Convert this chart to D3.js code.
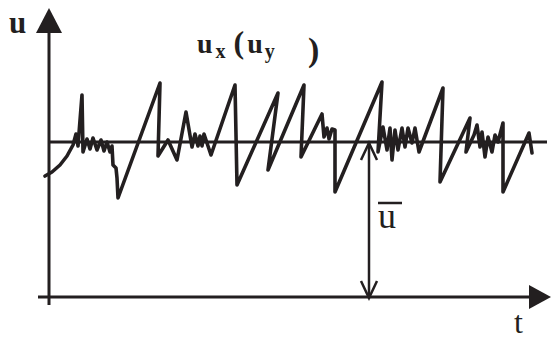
<!DOCTYPE html>
<html>
<head>
<meta charset="utf-8">
<script src="https://cdn.jsdelivr.net/npm/d3@7"></script>
<style>
  html, body { margin: 0; padding: 0; background: #fff; }
  svg { display: block; }
  text { font-family: "Liberation Serif", "DejaVu Serif", serif; fill: #231f20; }
</style>
</head>
<body>
<div id="chart"></div>
<script>
// signal u(t)
var sigT = [-0.8, 0.6, 2.2, 3.6, 4.8, 5.4, 5.8, 6.6, 6.8, 7.6, 8.2, 8.8, 9.6, 10.4, 11.0, 11.6, 12.2, 12.6, 12.8, 13.4,
            13.6, 13.8, 22.2, 21.8, 23.8, 25.6, 27.4, 28.6, 29.2, 29.8, 30.2, 30.6, 31.0, 31.6, 32.4, 37.2, 37.6, 45.8, 43.8, 51.0,
            50.4, 54.6, 55.0, 55.6, 56.0, 56.6, 57.2, 57.2, 66.6, 65.8, 66.8, 67.6, 68.2, 68.6, 69.2, 69.8, 70.6, 71.2, 71.8, 72.6,
            73.2, 74.0, 78.8, 78.2, 84.2, 83.4, 85.0, 85.6, 86.2, 86.6, 87.2, 87.8, 88.6, 89.2, 89.8, 90.8, 90.8, 96.0, 96.6];
var sigU = [24.2, 25.0, 26.4, 28.2, 30.4, 32.6, 30.2, 40.4, 29.0, 31.6, 29.6, 31.8, 29.4, 31.4, 29.2, 31.0, 29.0, 30.2, 26.4, 25.8,
            23.8, 19.8, 42.8, 28.2, 31.4, 27.4, 37.0, 30.0, 32.6, 30.2, 32.2, 30.2, 32.6, 30.8, 28.4, 42.4, 22.4, 40.8, 25.4, 42.4,
            28.0, 36.6, 32.0, 33.8, 31.6, 33.6, 33.4, 21.0, 43.0, 29.0, 34.0, 29.4, 33.8, 27.4, 33.4, 29.4, 33.8, 30.0, 33.8, 30.8,
            33.8, 29.0, 41.8, 23.0, 35.8, 29.0, 32.4, 34.4, 30.0, 33.0, 28.0, 32.0, 29.0, 32.4, 31.0, 34.8, 21.0, 32.8, 28.8];

// mean value and where the ū arrow stands
var uMean = 31;
var tMeanArrow = 64;

// axis extents (data units)
var tRange = [-2.2, 100.4];
var uRange = [-1.6, 57.8];

var width = 551, height = 341;
var color = "#231f20";

var x = d3.scaleLinear().domain([0, 100]).range([49, 549]);
var y = d3.scaleLinear().domain([0, uMean]).range([297, 142]);

var svg = d3.select("#chart").append("svg")
    .attr("width", width)
    .attr("height", height);

// y axis with filled arrow
svg.append("line")
    .attr("x1", x(0)).attr("x2", x(0))
    .attr("y1", y(uRange[0])).attr("y2", y(uRange[1]) + 20)
    .attr("stroke", color).attr("stroke-width", 3);
svg.append("path")
    .attr("d", "M" + (x(0) - 13) + "," + (y(uRange[1]) + 25) +
               "L" + x(0) + "," + y(uRange[1]) +
               "L" + (x(0) + 13) + "," + (y(uRange[1]) + 25) + "Z")
    .attr("fill", color);

// t axis with filled arrow
svg.append("line")
    .attr("x1", x(tRange[0])).attr("x2", x(tRange[1]) - 18)
    .attr("y1", y(0)).attr("y2", y(0))
    .attr("stroke", color).attr("stroke-width", 3);
svg.append("path")
    .attr("d", "M" + (x(tRange[1]) - 22) + "," + (y(0) - 12) +
               "L" + x(tRange[1]) + "," + y(0) +
               "L" + (x(tRange[1]) - 22) + "," + (y(0) + 12) + "Z")
    .attr("fill", color);

// mean line
svg.append("line")
    .attr("x1", x(0)).attr("x2", x(99.6))
    .attr("y1", y(uMean)).attr("y2", y(uMean))
    .attr("stroke", color).attr("stroke-width", 3);

// double arrow for ū
var ax = x(tMeanArrow);
svg.append("line")
    .attr("x1", ax).attr("x2", ax)
    .attr("y1", y(uMean) + 1).attr("y2", y(0) - 1)
    .attr("stroke", color).attr("stroke-width", 2.5);
svg.append("path")
    .attr("d", "M" + (ax - 8) + "," + (y(uMean) + 18) + "L" + ax + "," + (y(uMean) + 1) + "L" + (ax + 8) + "," + (y(uMean) + 18))
    .attr("fill", "none").attr("stroke", color).attr("stroke-width", 2.5);
svg.append("path")
    .attr("d", "M" + (ax - 8) + "," + (y(0) - 16) + "L" + ax + "," + (y(0) + 1) + "L" + (ax + 8) + "," + (y(0) - 16))
    .attr("fill", "none").attr("stroke", color).attr("stroke-width", 2.5);

// signal
var line = d3.line()
    .x(function(d, i) { return x(sigT[i]); })
    .y(function(d, i) { return y(sigU[i]); });

svg.append("path")
    .datum(sigT)
    .attr("d", line)
    .attr("fill", "none")
    .attr("stroke", color)
    .attr("stroke-width", 3.6)
    .attr("stroke-linejoin", "round")
    .attr("stroke-linecap", "round");

// labels
svg.append("text")
    .attr("x", 9).attr("y", 33)
    .attr("font-size", 31).attr("font-weight", "bold")
    .text("u");

svg.append("text")
    .attr("x", 514).attr("y", 333)
    .attr("font-size", 32)
    .text("t");

svg.append("text")
    .attr("x", 378).attr("y", 228)
    .attr("font-size", 36)
    .text("u");
svg.append("line")
    .attr("x1", 378).attr("x2", 402)
    .attr("y1", 203).attr("y2", 203)
    .attr("stroke", color).attr("stroke-width", 2.5);

var lbl = svg.append("text")
    .attr("x", 197).attr("y", 53)
    .attr("font-size", 28).attr("font-weight", "bold");
lbl.append("tspan").text("u");
lbl.append("tspan").attr("font-size", 20).attr("dx", 3).attr("dy", 5).text("x");
lbl.append("tspan").attr("font-size", 32).attr("dx", 8).attr("dy", -5).text("(");
lbl.append("tspan").attr("dx", 3).text("u");
lbl.append("tspan").attr("font-size", 20).attr("dx", 2).attr("dy", 5).text("y");

svg.append("text")
    .attr("x", 308).attr("y", 61)
    .attr("font-size", 34).attr("font-weight", "bold")
    .text(")");
</script>
</body>
</html>
